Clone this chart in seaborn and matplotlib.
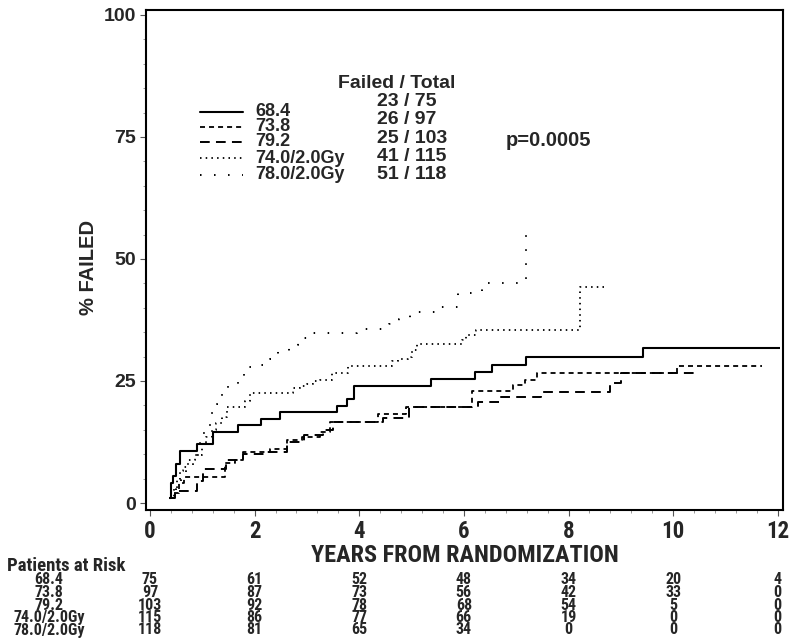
import matplotlib
matplotlib.use("Agg")
import matplotlib.pyplot as plt
from matplotlib.lines import Line2D
from matplotlib import transforms, font_manager
from matplotlib.font_manager import FontProperties
from matplotlib.ticker import MultipleLocator
import seaborn as sns
import pandas as pd

# ---------------- data ----------------
arms = ["68.4", "73.8", "79.2", "74.0/2.0Gy", "78.0/2.0Gy"]
failed_total = ["23 / 75", "26 / 97", "25 / 103", "41 / 115", "51 / 118"]
p_value = "p=0.0005"

t68 = [0.37, 0.40, 0.44, 0.50, 0.57, 0.90, 1.21, 1.69, 2.13, 2.48, 3.57, 3.77, 3.90, 5.38, 6.21, 6.54, 7.18, 9.43, 12.04]
p68 = [1.0, 4.0, 5.5, 8.0, 10.7, 12.0, 14.6, 16.0, 17.2, 18.6, 19.9, 21.3, 24.0, 25.5, 26.9, 28.3, 29.9, 31.8, 31.8]

t73 = [0.38, 0.45, 0.55, 0.65, 1.43, 1.62, 1.78, 2.30, 2.62, 2.90, 3.25, 3.45, 4.36, 4.90, 6.15, 6.93, 7.17, 7.39, 10.07, 11.69]
p73 = [1.0, 2.0, 4.0, 5.3, 8.2, 8.8, 10.5, 11.0, 12.9, 13.5, 14.6, 16.7, 18.2, 19.6, 23.0, 24.2, 25.3, 26.6, 28.0, 28.0]

t79 = [0.38, 0.48, 0.89, 1.02, 1.45, 1.78, 2.20, 2.62, 2.95, 3.30, 3.50, 4.45, 4.95, 6.27, 6.67, 7.48, 8.79, 9.01, 10.45]
p79 = [1.0, 2.5, 4.5, 6.9, 8.8, 10.0, 10.5, 12.5, 14.0, 15.0, 16.7, 17.5, 19.6, 20.6, 21.8, 22.7, 24.5, 26.6, 26.6]

t74 = [0.38, 0.45, 0.52, 0.58, 0.64, 0.73, 0.86, 0.99, 1.08, 1.18, 1.27, 1.37, 1.47, 1.82, 1.91, 2.74, 2.87, 3.00, 3.12,
       3.25, 3.47, 3.79, 4.62, 4.75, 4.94, 5.00, 5.10, 5.96, 6.05, 6.24, 8.22, 8.69]
p74 = [1.0, 3.0, 5.0, 6.5, 7.4, 8.8, 9.8, 12.2, 13.6, 15.0, 16.3, 17.7, 19.7, 20.8, 22.5, 23.5, 24.0, 24.4, 24.9,
       25.3, 26.6, 28.1, 29.0, 29.6, 30.0, 31.4, 32.5, 33.4, 34.4, 35.5, 44.3, 44.3]

t78 = [0.38, 0.50, 0.60, 0.68, 0.83, 0.96, 1.08, 1.16, 1.29, 1.37, 1.50, 1.68, 1.80, 2.09, 2.29, 2.44, 2.66, 2.83,
       3.07, 3.96, 4.57, 4.76, 4.97, 5.52, 5.89, 6.35, 7.18]
p78 = [1.0, 3.5, 5.5, 7.8, 9.8, 14.3, 16.0, 18.5, 20.2, 22.5, 24.4, 25.9, 27.9, 28.3, 29.6, 31.2, 32.3, 33.9,
       34.8, 35.6, 36.6, 37.8, 39.2, 40.2, 43.0, 45.0, 55.7]

risk_times = [0, 2, 4, 6, 8, 10, 12]
risk_68 = [75, 61, 52, 48, 34, 20, 4]
risk_73 = [97, 87, 73, 56, 42, 33, 0]
risk_79 = [103, 92, 78, 68, 54, 5, 0]
risk_74 = [115, 86, 77, 66, 19, 0, 0]
risk_78 = [118, 81, 65, 34, 0, 0, 0]

x_ticks = [0, 2, 4, 6, 8, 10, 12]
y_ticks = [0, 25, 50, 75, 100]

# ---------------- style ----------------
sns.set_style("ticks")
plt.rcParams["font.family"] = ["Liberation Sans", "DejaVu Sans"]
plt.rcParams["lines.scale_dashes"] = False


def _is_bold(w):
    if isinstance(w, (int, float)):
        return w >= 600
    return str(w).lower() in ("bold", "heavy", "black", "extra bold", "demibold", "semibold", "demi bold")


def find_condensed_bold():
    best = None
    best_rank = 99
    for f in font_manager.fontManager.ttflist:
        name = f.name
        stretch = str(f.stretch).lower()
        cond = ("narrow" in name.lower() or "condensed" in name.lower()
                or "condensed" in stretch or "narrow" in stretch or "condensed" in f.fname.lower()
                or "narrow" in f.fname.lower())
        if not cond or not _is_bold(f.weight) or str(f.style) != "normal":
            continue
        low = (name + f.fname).lower()
        if "liberation" in low and "narrow" in low:
            rank = 0
        elif "arial" in low:
            rank = 1
        elif "roboto" in low:
            rank = 2
        elif "dejavu" in low and "sans" in low and "mono" not in low:
            rank = 3
        else:
            rank = 5
        if rank < best_rank:
            best, best_rank = f.fname, rank
    return best


COND_PATH = find_condensed_bold()


def cprops(size):
    if COND_PATH:
        return FontProperties(fname=COND_PATH, size=size)
    return FontProperties(family=["Liberation Sans", "DejaVu Sans"], weight="bold", size=size * 0.8)


styles = {
    "68.4": dict(linestyle="-", lw=1.5),
    "73.8": dict(linestyle=(0, (3.6, 2.9)), lw=1.3),
    "79.2": dict(linestyle=(0, (7.0, 4.5)), lw=1.4),
    "74.0/2.0Gy": dict(linestyle=(0, (1.1, 3.0)), lw=1.3),
    "78.0/2.0Gy": dict(linestyle=(0, (1.1, 9.0)), lw=1.4),
}
series = {
    "68.4": (t68, p68),
    "73.8": (t73, p73),
    "79.2": (t79, p79),
    "74.0/2.0Gy": (t74, p74),
    "78.0/2.0Gy": (t78, p78),
}

W, H = 800, 641
fig = plt.figure(figsize=(W / 100, H / 100), dpi=100)
ax = fig.add_axes([146 / W, 1 - 510 / H, (783 - 146) / W, (510 - 10) / H])

for arm in arms:
    t, p = series[arm]
    df = pd.DataFrame({"years": t, "pct": p})
    st = styles[arm]
    sns.lineplot(data=df, x="years", y="pct", ax=ax, color="black", estimator=None, sort=False,
                 drawstyle="steps-post", linestyle=st["linestyle"], linewidth=st["lw"],
                 solid_capstyle="butt", dash_capstyle="butt")

ax.set_xlim(-0.076, 12.1)
ax.set_ylim(-1.43, 101.0)
ax.set_xticks(x_ticks)
ax.set_yticks(y_ticks)
ax.xaxis.set_minor_locator(MultipleLocator(0.4))
ax.yaxis.set_minor_locator(MultipleLocator(5))
ax.tick_params(axis="both", which="major", direction="out", length=4, width=0.8, color="#555555", pad=3)
ax.tick_params(axis="both", which="minor", direction="out", length=2.5, width=0.6, color="#888888")
for lab in ax.get_xticklabels():
    lab.set_fontproperties(cprops(16.5))
for lab in ax.get_yticklabels():
    lab.set_fontweight("bold"); lab.set_fontsize(14)
for s in ax.spines.values():
    s.set_linewidth(1.5)
    s.set_color("black")

ax.set_ylabel("% FAILED", fontsize=14.5, fontweight="bold", va="center")
ax.yaxis.set_label_coords((88 - 146) / 637, (510 - 267) / 500)
ax.set_xlabel("YEARS FROM RANDOMIZATION", fontproperties=cprops(17.5), va="center")
ax.xaxis.set_label_coords((465 - 146) / 637, (510 - 555) / 500)

# ---------------- legend block ----------------
def fx(x):
    return x / W


def fy(y):
    return 1 - y / H


label_y = [111.7, 126.7, 141.7, 158.3, 175.0]
count_y = [101.7, 120.0, 138.3, 156.7, 175.0]
for i, arm in enumerate(arms):
    st = styles[arm]
    fig.add_artist(Line2D([fx(200), fx(243)], [fy(label_y[i]), fy(label_y[i])], color="black",
                          linestyle=st["linestyle"], linewidth=st["lw"], transform=fig.transFigure))
    fig.text(fx(255), fy(label_y[i]), arm, fontsize=13, fontweight="bold", ha="left", va="center")
    fig.text(fx(377), fy(count_y[i]), failed_total[i], fontsize=14, fontweight="bold", ha="left", va="center")
fig.text(fx(397), fy(83), "Failed / Total", fontsize=14, fontweight="bold", ha="center", va="center")
fig.text(fx(506), fy(140), p_value, fontsize=14.5, fontweight="bold", ha="left", va="center")

# ---------------- patients at risk table ----------------
trans = transforms.blended_transform_factory(ax.transData, fig.transFigure)
fig.text(fx(7), fy(566), "Patients at Risk", fontproperties=cprops(13.5), ha="left", va="center")
risk_rows = [risk_68, risk_73, risk_79, risk_74, risk_78]
row_y = [580, 592.5, 605, 617.5, 630]
for i, arm in enumerate(arms):
    fig.text(fx(49), fy(row_y[i]), arm, fontproperties=cprops(11.5), ha="center", va="center")
    for tt, n in zip(risk_times, risk_rows[i]):
        ax.text(tt, fy(row_y[i]), str(n), transform=trans, fontproperties=cprops(11.5),
                ha="center", va="center", clip_on=False)

fig.savefig("out.png", dpi=100, facecolor="white")
